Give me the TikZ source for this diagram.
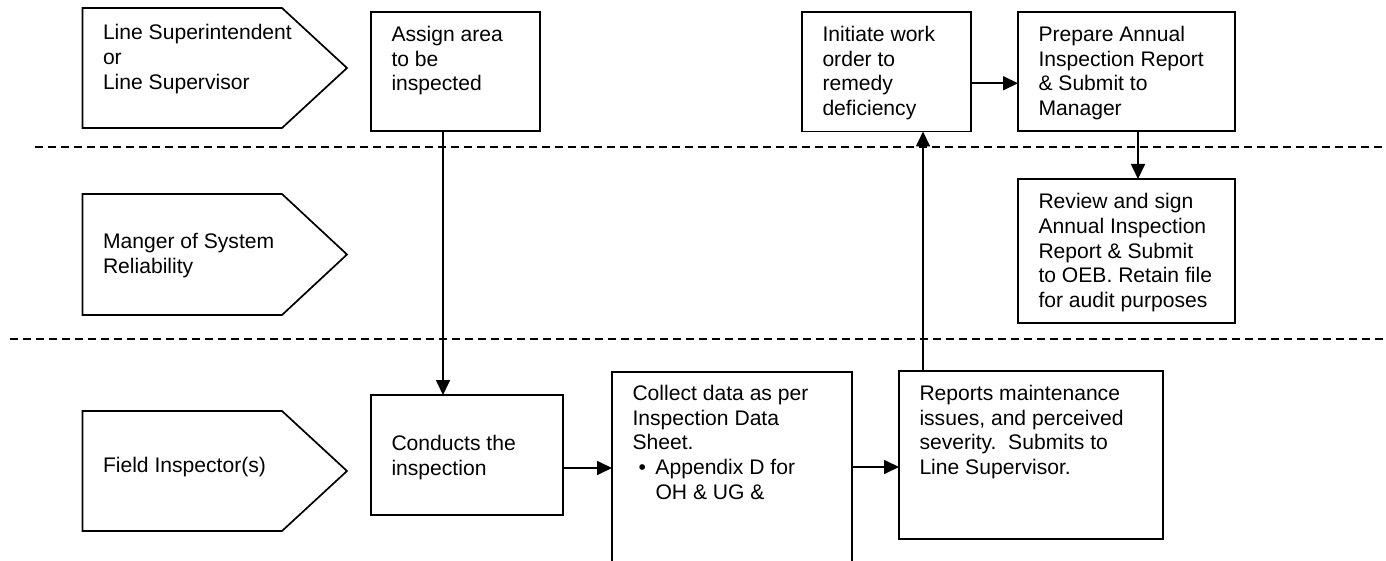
\documentclass[tikz,border=0pt]{standalone}
\usepackage{fontspec}
\setmainfont{Liberation Sans}
\usetikzlibrary{arrows.meta,calc}
\newcommand{\bx}[4]{\parbox[c][#2pt][t]{#1pt}{\raggedright\rule{0pt}{#3pt}#4}}
\begin{document}
\begin{tikzpicture}[x=1pt,y=-1pt,
  every node/.style={font=\fontsize{21.1}{24.6}\selectfont},
  box/.style={draw, line width=1.7pt, inner xsep=20.5pt, inner ysep=0pt, outer sep=0pt, anchor=north west},
  lbl/.style={anchor=north west, inner xsep=20.5pt, inner ysep=0pt, outer sep=0pt},
  lane/.style={line width=1.7pt, line join=miter},
  sep/.style={line width=1.4pt, dash pattern=on 8pt off 5pt},
  arr/.style={line width=1.7pt, -{Triangle[length=15pt,width=14pt]}}
]
\useasboundingbox (0,0) rectangle (1386,561);
\clip (0,0) rectangle (1386,561);

% lane separators
\draw[sep] (35,147) -- (1386,147);
\draw[sep] (10,339) -- (1386,339);

% lane headers
\draw[lane] (82.5,8) -- (282,8) -- (347,68) -- (282,128) -- (82.5,128) -- cycle;
\node[lbl] (lane1) at (82.5,8) {\parbox[t]{240pt}{\rule{0pt}{32pt}Line Superintendent\\or\\Line Supervisor}};

\draw[lane] (82.5,194) -- (282,194) -- (347,254.5) -- (282,315) -- (82.5,315) -- cycle;
\node[lbl] (lane2) at (82.5,194) {\parbox[t]{240pt}{\rule{0pt}{55pt}Manger of System\\Reliability}};

\draw[lane] (82.5,411) -- (282,411) -- (347,471) -- (282,531) -- (82.5,531) -- cycle;
\node[lbl] (lane3) at (82.5,411) {\parbox[t]{240pt}{\rule{0pt}{61pt}Field Inspector(s)}};

% process boxes
\node[box] (assign) at (371,12) {\bx{128}{119}{29.5}{Assign area\\to be\\inspected}};
\node[box] (initiate) at (802,12) {\bx{128}{119.5}{29.5}{Initiate work\\order to\\remedy\\deficiency}};
\node[box] (prepare) at (1018,12) {\bx{176}{119}{29.5}{Prepare Annual\\Inspection Report\\\& Submit to\\Manager}};
\node[box] (review) at (1018,179) {\bx{176}{144}{30}{Review and sign\\Annual Inspection\\Report \& Submit\\to OEB. Retain file\\for audit purposes}};
\node[box] (conducts) at (371,395) {\bx{151}{120}{55.7}{Conducts the\\inspection}};
\node[box] (collect) at (612,372) {\bx{199}{240}{28.7}{Collect data as per\\Inspection Data\\Sheet.\\\hspace*{6pt}\makebox[17pt][l]{•}Appendix D for\\\hspace*{23pt}OH \& UG \&}};
\node[box] (reports) at (899,371) {\bx{223}{168}{29.7}{Reports maintenance\\issues, and perceived\\severity.\ \ Submits to\\Line Supervisor.}};

% connectors
\coordinate (a1) at ([xshift=72pt]assign.south west);
\draw[arr] (a1) -- (a1 |- conducts.north);
\coordinate (a2) at ([yshift=-13pt]conducts.east);
\draw[arr] (a2) -- (a2 -| collect.west);
\coordinate (a3) at ([yshift=-12pt]reports.west);
\draw[arr] (a3 -| collect.east) -- (a3);
\coordinate (a4) at ([xshift=24pt]reports.north west);
\draw[arr] (a4) -- (a4 |- initiate.south);
\coordinate (a5) at ([yshift=-11.5pt]initiate.east);
\draw[arr] (a5) -- (a5 -| prepare.west);
\coordinate (a6) at ([xshift=11.5pt]prepare.south);
\draw[arr] (a6) -- (a6 |- review.north);
\end{tikzpicture}
\end{document}
